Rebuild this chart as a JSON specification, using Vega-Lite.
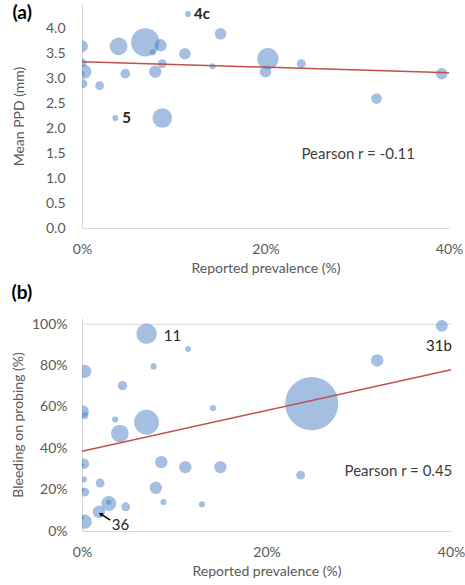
{
  "$schema": "https://vega.github.io/schema/vega-lite/v6.json",
  "background": "white",
  "padding": {"left": 11, "top": 4, "right": 0, "bottom": 0},
  "spacing": 9,
  "config": {
    "view": {"stroke": null},
    "font": "Lato",
    "axis": {
      "domainColor": "#d9d9d9",
      "domainWidth": 1,
      "ticks": false,
      "grid": false,
      "labelOverlap": false,
      "labelFlush": false,
      "labelColor": "#595959",
      "titleColor": "#595959",
      "labelFont": "Lato",
      "titleFont": "Lato",
      "labelFontSize": 14,
      "titleFontSize": 14,
      "titleFontWeight": "normal"
    },
    "title": {"font": "Lato", "fontSize": 19, "fontWeight": "bold", "color": "#000000"}
  },
  "datasets": {
    "ppd": [
      {"prev": 0.0, "val": 3.65, "n": 45},
      {"prev": 0.0, "val": 3.32, "n": 25},
      {"prev": 0.25, "val": 3.14, "n": 64},
      {"prev": 0.0, "val": 3.10, "n": 9},
      {"prev": 0.1, "val": 2.90, "n": 25},
      {"prev": 1.92, "val": 2.86, "n": 25},
      {"prev": 3.63, "val": 2.21, "n": 11},
      {"prev": 3.99, "val": 3.65, "n": 100},
      {"prev": 4.72, "val": 3.10, "n": 30},
      {"prev": 6.89, "val": 3.73, "n": 256},
      {"prev": 7.73, "val": 3.53, "n": 12},
      {"prev": 8.56, "val": 3.67, "n": 49},
      {"prev": 7.98, "val": 3.14, "n": 49},
      {"prev": 8.75, "val": 3.30, "n": 25},
      {"prev": 8.75, "val": 2.21, "n": 121},
      {"prev": 11.55, "val": 4.30, "n": 11},
      {"prev": 11.22, "val": 3.50, "n": 42},
      {"prev": 14.24, "val": 3.25, "n": 11},
      {"prev": 15.1, "val": 3.90, "n": 42},
      {"prev": 20.26, "val": 3.40, "n": 144},
      {"prev": 20.0, "val": 3.14, "n": 42},
      {"prev": 23.9, "val": 3.30, "n": 25},
      {"prev": 32.1, "val": 2.60, "n": 36},
      {"prev": 39.2, "val": 3.10, "n": 42}
    ],
    "bop": [
      {"prev": 7.0, "val": 95.4, "n": 132},
      {"prev": 11.5, "val": 88.0, "n": 11},
      {"prev": 7.76, "val": 79.6, "n": 12},
      {"prev": 0.3, "val": 77.2, "n": 56},
      {"prev": 4.4, "val": 70.3, "n": 28},
      {"prev": 14.2, "val": 59.5, "n": 12},
      {"prev": 24.9, "val": 61.6, "n": 900},
      {"prev": 32.0, "val": 82.5, "n": 49},
      {"prev": 39.0, "val": 99.2, "n": 45},
      {"prev": 0.1, "val": 57.9, "n": 45},
      {"prev": 0.3, "val": 55.8, "n": 16},
      {"prev": 3.6, "val": 53.9, "n": 12},
      {"prev": 7.0, "val": 52.6, "n": 196},
      {"prev": 4.1, "val": 47.1, "n": 100},
      {"prev": 0.2, "val": 32.5, "n": 36},
      {"prev": 0.0, "val": 32.0, "n": 6},
      {"prev": 8.6, "val": 33.3, "n": 49},
      {"prev": 11.2, "val": 30.9, "n": 49},
      {"prev": 15.0, "val": 30.9, "n": 49},
      {"prev": 23.7, "val": 27.0, "n": 25},
      {"prev": 0.2, "val": 24.9, "n": 12},
      {"prev": 1.97, "val": 23.2, "n": 25},
      {"prev": 0.3, "val": 18.8, "n": 25},
      {"prev": 0.0, "val": 20.0, "n": 6},
      {"prev": 8.0, "val": 20.9, "n": 49},
      {"prev": 2.9, "val": 13.3, "n": 72},
      {"prev": 2.9, "val": 13.9, "n": 9},
      {"prev": 4.74, "val": 11.7, "n": 25},
      {"prev": 8.83, "val": 14.0, "n": 12},
      {"prev": 13.0, "val": 12.9, "n": 12},
      {"prev": 1.83, "val": 9.3, "n": 49},
      {"prev": 0.3, "val": 4.5, "n": 64},
      {"prev": 0.0, "val": 6.5, "n": 6}
    ]
  },
  "vconcat": [
    {
      "width": 367,
      "height": 224,
      "title": {"text": "(a)", "anchor": "start", "frame": "bounds", "orient": "top", "offset": -19},
      "encoding": {
        "x": {"field": "prev", "type": "quantitative", "scale": {"domain": [0, 40], "nice": false},
          "axis": {"values": [0, 20, 40], "labelExpr": "datum.value + '%'", "labelPadding": 14, "titlePadding": 5, "labelFlush": false},
          "title": "Reported prevalence (%)"},
        "y": {"field": "val", "type": "quantitative", "scale": {"domain": [0, 4.5], "nice": false},
          "axis": {"values": [0, 0.5, 1, 1.5, 2, 2.5, 3, 3.5, 4], "format": ".1f", "labelPadding": 17, "titlePadding": 19, "labelOverlap": false},
          "title": "Mean PPD (mm)"}
      },
      "layer": [
        {
          "data": {"name": "ppd"},
          "mark": {"type": "circle", "clip": true, "color": "#4a7fc6", "opacity": 0.5},
          "encoding": {
            "size": {"field": "n", "type": "quantitative", "scale": {"domain": [0, 900], "range": [0, 2827]}, "legend": null}
          }
        },
        {
          "data": {"values": [{"prev": 0, "val": 3.34}, {"prev": 40, "val": 3.12}]},
          "mark": {"type": "line", "color": "#c0504d", "strokeWidth": 1.5},
          "encoding": {}
        },
        {
          "data": {"values": [{"prev": 12.2, "val": 4.29, "label": "4c"}, {"prev": 4.39, "val": 2.20, "label": "5"}]},
          "mark": {"type": "text", "align": "left", "baseline": "middle", "fontSize": 15, "fontWeight": "bold", "color": "#262626"},
          "encoding": {"text": {"field": "label"}}
        },
        {
          "data": {"values": [{"prev": 30.1, "val": 1.48, "label": "Pearson r = -0.11"}]},
          "mark": {"type": "text", "align": "center", "baseline": "middle", "fontSize": 15, "color": "#404040"},
          "encoding": {"text": {"field": "label"}}
        }
      ]
    },
    {
      "width": 369,
      "height": 213,
      "title": {"text": "(b)", "anchor": "start", "frame": "bounds", "orient": "top", "offset": 14},
      "encoding": {
        "x": {"field": "prev", "type": "quantitative", "scale": {"domain": [0, 40], "nice": false},
          "axis": {"values": [0, 20, 40], "labelExpr": "datum.value + '%'", "labelPadding": 14, "titlePadding": 5, "labelFlush": false},
          "title": "Reported prevalence (%)"},
        "y": {"field": "val", "type": "quantitative", "scale": {"domain": [0, 103], "nice": false},
          "axis": {"values": [0, 20, 40, 60, 80, 100], "labelExpr": "datum.value + '%'", "labelPadding": 15, "titlePadding": 6, "labelOverlap": false},
          "title": "Bleeding on probing (%)"}
      },
      "layer": [
        {
          "data": {"values": [{"prev": 0, "val": 100, "prev2": 40}]},
          "mark": {"type": "rule", "color": "#d9d9d9", "strokeWidth": 1},
          "encoding": {"x2": {"field": "prev2"}}
        },
        {
          "data": {"name": "bop"},
          "mark": {"type": "circle", "clip": true, "color": "#4a7fc6", "opacity": 0.5},
          "encoding": {
            "size": {"field": "n", "type": "quantitative", "scale": {"domain": [0, 900], "range": [0, 2827]}, "legend": null}
          }
        },
        {
          "data": {"values": [{"prev": 0, "val": 38.6}, {"prev": 40, "val": 78.0}]},
          "mark": {"type": "line", "color": "#c0504d", "strokeWidth": 1.5},
          "encoding": {}
        },
        {
          "data": {"values": [{"prev": 3.05, "val": 5.3, "prev2": 2.2, "val2": 7.8}]},
          "mark": {"type": "rule", "color": "#000000", "strokeWidth": 1.5},
          "encoding": {
            "x2": {"field": "prev2"},
            "y2": {"field": "val2"}
          }
        },
        {
          "data": {"values": [{"prev": 2.08, "val": 8.06}]},
          "mark": {"type": "point", "shape": "triangle", "filled": true, "color": "#000000", "opacity": 1, "size": 22, "angle": 302},
          "encoding": {}
        },
        {
          "data": {"values": [
            {"prev": 8.87, "val": 94.1, "label": "11", "al": "left"},
            {"prev": 38.7, "val": 89.7, "label": "31b", "al": "center"},
            {"prev": 4.18, "val": 2.9, "label": "36", "al": "center"}
          ]},
          "mark": {"type": "text", "baseline": "middle", "fontSize": 15, "color": "#262626", "align": {"expr": "datum.al"}},
          "encoding": {"text": {"field": "label"}}
        },
        {
          "data": {"values": [{"prev": 34.3, "val": 28.9, "label": "Pearson r = 0.45"}]},
          "mark": {"type": "text", "align": "center", "baseline": "middle", "fontSize": 15, "color": "#404040"},
          "encoding": {"text": {"field": "label"}}
        }
      ]
    }
  ]
}
